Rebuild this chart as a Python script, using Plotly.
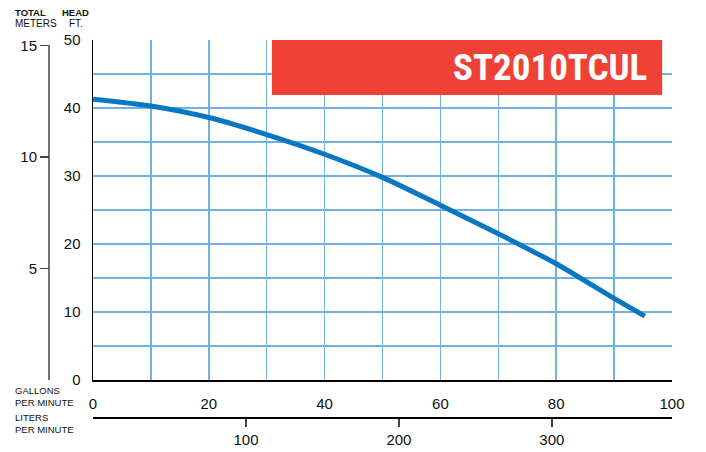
import plotly.graph_objects as go

# ---- data ----
flow_gpm = [0, 10, 20, 30, 40, 50, 60, 70, 80, 90, 95.3]
head_ft = [41.3, 40.3, 38.6, 36.1, 33.2, 29.8, 25.7, 21.5, 17.1, 12.0, 9.4]
gpm_ticks = [0, 20, 40, 60, 80, 100]
ft_ticks = [0, 10, 20, 30, 40, 50]
lpm_ticks = [100, 200, 300]
m_ticks = [5, 10, 15]
model_name = "ST2010TCUL"

GAL_TO_L = 3.78541
FT_PER_M = 3.28084

W, H = 706, 452
ML, MR, MT, MB = 40, 34, 40, 10
PW, PH = W - ML - MR, H - MT - MB


def px_x(px):
    return (px - ML) / PW


def px_y(py):
    return (H - MB - py) / PH


GRID = "#6fb2e0"
CURVE = "#0a77c2"
FONT = "Liberation Sans, Arial, Helvetica, sans-serif"

fig = go.Figure()
fig.add_trace(go.Scatter(
    x=flow_gpm, y=head_ft, mode="lines",
    line=dict(color=CURVE, width=5, shape="spline", smoothing=0.8),
    hoverinfo="skip", showlegend=False,
))
# dummy trace for secondary (liters / meters) axes
fig.add_trace(go.Scatter(x=[None], y=[None], xaxis="x2", yaxis="y2",
                         mode="lines", showlegend=False, hoverinfo="skip"))

x_dom = [px_x(93), 1]
y_dom = [px_y(380), 1]

fig.update_layout(
    width=W, height=H,
    margin=dict(l=ML, r=MR, t=MT, b=MB, autoexpand=False),
    paper_bgcolor="white", plot_bgcolor="white",
    font=dict(family=FONT, color="#111", size=15),
    showlegend=False,
    xaxis=dict(
        domain=x_dom, range=[0, 100], tickvals=gpm_ticks,
        showgrid=True, gridcolor=GRID, gridwidth=1.5,
        minor=dict(dtick=10, showgrid=True, gridcolor=GRID, gridwidth=1.5),
        showline=True, linecolor="black", linewidth=1.5,
        ticks="outside", ticklen=9, tickcolor="rgba(0,0,0,0)",
        zeroline=False, anchor="y", automargin=False,
        tickfont=dict(size=15),
    ),
    yaxis=dict(
        domain=y_dom, range=[0, 50], tickvals=ft_ticks,
        showgrid=True, gridcolor=GRID, gridwidth=1.5,
        minor=dict(dtick=5, showgrid=True, gridcolor=GRID, gridwidth=1.5),
        showline=True, linecolor="black", linewidth=1.5,
        ticks="outside", ticklen=8, tickcolor="rgba(0,0,0,0)",
        zeroline=False, anchor="x", automargin=False,
        tickfont=dict(size=15),
    ),
    xaxis2=dict(
        overlaying="x", anchor="free", position=px_y(417), side="bottom",
        range=[0, 100 * GAL_TO_L], tickvals=lpm_ticks,
        showgrid=False, zeroline=False, automargin=False,
        showline=True, linecolor="black", linewidth=1.5,
        ticks="outside", ticklen=8, tickcolor="#444", tickwidth=1.5,
        tickfont=dict(size=15),
    ),
    yaxis2=dict(
        overlaying="y", anchor="free", position=px_x(49), side="left",
        range=[0, 50 / FT_PER_M], tickvals=m_ticks,
        showgrid=False, zeroline=False, showline=False, automargin=False,
        ticks="outside", ticklen=9, tickcolor="#444", tickwidth=1.5,
        tickfont=dict(size=15),
    ),
)

# meters axis line (from 0 to 15 m)
fig.add_shape(type="line", xref="paper", yref="y2",
              x0=px_x(49), x1=px_x(49), y0=0, y1=15,
              line=dict(color="#444", width=1.5))

# red model banner
fig.add_shape(type="rect", xref="x", yref="y",
              x0=30.9, x1=98.3, y0=41.9, y1=50.15,
              fillcolor="#ef4136", line=dict(width=0), layer="between")
fig.add_annotation(xref="x", yref="y", x=96.0, y=46.0, text=model_name,
                   showarrow=False, xanchor="right", yanchor="middle",
                   font=dict(family="Liberation Sans Narrow, Roboto Condensed, Open Sans Condensed, "
                                    "Noto Sans Condensed, DejaVu Sans Condensed, Roboto, sans-serif",
                             size=37, color="white", weight="bold"))


def label(text, px, py, size=10, bold=False, anchor="left"):
    fig.add_annotation(xref="paper", yref="paper", x=px_x(px), y=px_y(py),
                       text=f"<b>{text}</b>" if bold else text,
                       showarrow=False, xanchor=anchor, yanchor="middle",
                       align=anchor if anchor != "center" else "center",
                       font=dict(family=FONT, size=size, color="#111"))


label("TOTAL", 13, 13, size=9.5, bold=True)
label("METERS", 13, 23.5, size=10)
label("HEAD", 75.5, 13, size=9.5, bold=True, anchor="center")
label("FT.", 75.5, 23.5, size=10, anchor="center")
label("GALLONS<br>PER MINUTE", 13, 396, size=9.5)
label("LITERS<br>PER MINUTE", 13, 423, size=9.5)

fig.write_html("out.html",
               config={"displayModeBar": False, "staticPlot": True},
               post_script="document.body.style.margin='0';document.body.style.overflow='hidden';")
